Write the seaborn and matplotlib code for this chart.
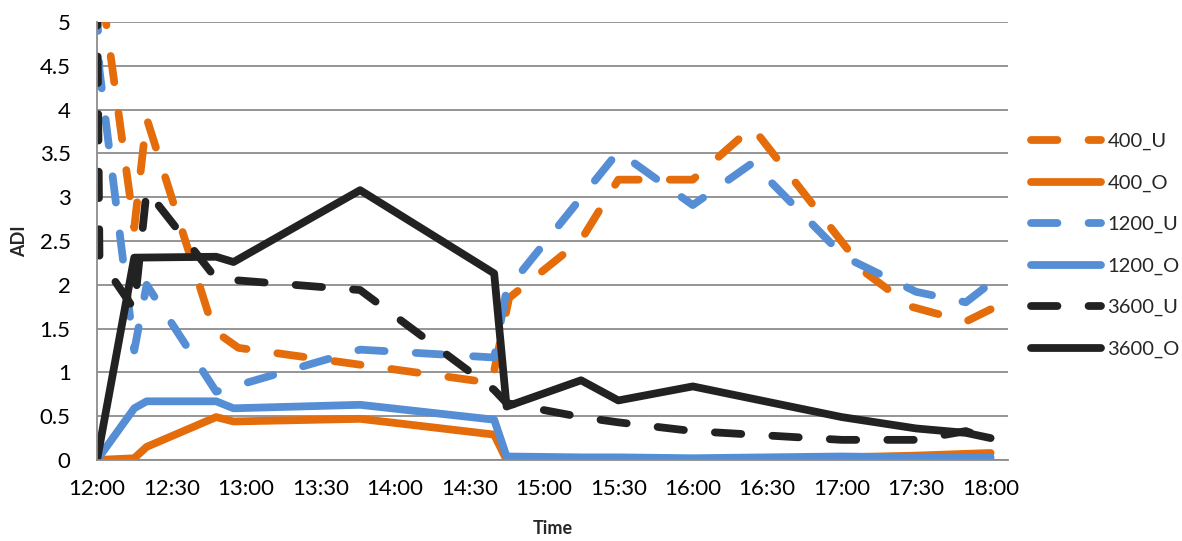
import matplotlib
matplotlib.use("Agg")
import matplotlib.pyplot as plt
from matplotlib.ticker import MultipleLocator, FuncFormatter
import pandas as pd
import seaborn as sns

# ---- measured ADI per run (sample time HH:MM, value) ----
t_400_u = ["12:00", "12:15", "12:20", "12:47", "12:57", "14:39", "14:46", "15:15",
           "15:30", "16:00", "16:24", "17:10", "17:28", "17:50", "18:00"]
v_400_u = [5.75, 2.65, 3.9, 1.48, 1.28, 0.88, 1.85, 2.51,
           3.2, 3.2, 3.8, 2.13, 1.75, 1.58, 1.72]

t_400_o = ["12:00", "12:15", "12:20", "12:48", "12:55", "13:46", "14:40", "14:45",
           "15:15", "15:30", "16:00", "17:00", "17:30", "18:00"]
v_400_o = [0.0, 0.02, 0.15, 0.49, 0.44, 0.47, 0.29, 0.0,
           0.01, 0.01, 0.01, 0.03, 0.05, 0.08]

t_1200_u = ["12:00", "12:01", "12:15", "12:20", "12:48", "13:46", "14:40", "14:45",
            "15:30", "16:00", "16:24", "17:01", "17:30", "17:50", "18:00"]
v_1200_u = [5.2, 4.45, 1.25, 2.0, 0.78, 1.26, 1.17, 1.94,
            3.52, 2.91, 3.39, 2.32, 1.92, 1.8, 2.02]

t_1200_o = ["12:00", "12:15", "12:20", "12:48", "12:55", "13:46", "14:40", "14:45",
            "15:15", "15:30", "16:00", "17:00", "17:30", "18:00"]
v_1200_o = [0.0, 0.59, 0.67, 0.67, 0.59, 0.63, 0.46, 0.04,
            0.03, 0.03, 0.02, 0.04, 0.03, 0.03]

t_3600_u = ["12:00", "12:01", "12:15", "12:20", "12:48", "13:46", "14:40", "14:45",
            "15:15", "15:30", "16:00", "17:00", "17:30", "17:50", "18:00"]
v_3600_u = [5.5, 2.3, 1.72, 3.08, 2.07, 1.94, 0.8, 0.65,
            0.49, 0.43, 0.33, 0.23, 0.23, 0.33, 0.23]

t_3600_o = ["12:00", "12:15", "12:48", "12:55", "13:46", "14:40", "14:45", "15:15",
            "15:30", "16:00", "17:00", "17:30", "17:50", "18:00"]
v_3600_o = [0.0, 2.31, 2.32, 2.26, 3.08, 2.13, 0.61, 0.91,
            0.68, 0.84, 0.49, 0.36, 0.31, 0.25]

series_names = ["400_U", "400_O", "1200_U", "1200_O", "3600_U", "3600_O"]
series_times = [t_400_u, t_400_o, t_1200_u, t_1200_o, t_3600_u, t_3600_o]
series_values = [v_400_u, v_400_o, v_1200_u, v_1200_o, v_3600_u, v_3600_o]

y_ticks = [0, 0.5, 1, 1.5, 2, 2.5, 3, 3.5, 4, 4.5, 5]

ORANGE = "#E46C0A"
BLUE = "#558ED5"
BLACK = "#222222"
colors = {"400_U": ORANGE, "400_O": ORANGE, "1200_U": BLUE,
          "1200_O": BLUE, "3600_U": BLACK, "3600_O": BLACK}


def minutes_after_noon(hhmm):
    h, m = hhmm.split(":")
    return (int(h) - 12) * 60 + int(m)


frames = []
for name, ts, vs in zip(series_names, series_times, series_values):
    frames.append(pd.DataFrame({"series": name,
                                "minutes": [minutes_after_noon(t) for t in ts],
                                "ADI": vs}))
df = pd.concat(frames, ignore_index=True)

sns.set_theme(style="white")
plt.rcParams["font.family"] = ["Lato", "DejaVu Sans"]

fig = plt.figure(figsize=(11.82, 5.41), dpi=100)
ax = fig.add_axes([97 / 1182, 1 - 460 / 541, (1008 - 97) / 1182, (460 - 22) / 541])

LW = 5.6
for name in series_names:
    sub = df[df["series"] == name]
    sns.lineplot(data=sub, x="minutes", y="ADI", color=colors[name], lw=LW,
                 sort=False, estimator=None, label=name, legend=False, ax=ax)
    ln = ax.lines[-1]
    ln.set_solid_capstyle("round")
    ln.set_solid_joinstyle("round")
    ln.set_dash_capstyle("round")
    ln.set_dash_joinstyle("round")
    if name.endswith("_U"):
        ln.set_dashes((3.4, 4.0))

ax.set_xlim(0, 367)
ax.set_ylim(0, 5)
ax.xaxis.set_major_locator(MultipleLocator(30))
ax.xaxis.set_major_formatter(
    FuncFormatter(lambda m, _: f"{12 + int(round(m)) // 60}:{int(round(m)) % 60:02d}"))
ax.set_yticks(y_ticks)
ax.yaxis.set_major_formatter(FuncFormatter(lambda v, _: f"{v:g}"))

ax.grid(axis="y", color="#8C8C8C", lw=1.3)
ax.grid(axis="x", visible=False)
ax.set_axisbelow(True)
for side in ("top", "right"):
    ax.spines[side].set_visible(False)
for side in ("left", "bottom"):
    ax.spines[side].set_color("#8C8C8C")
    ax.spines[side].set_linewidth(1.3)

ax.tick_params(axis="both", length=0, labelsize=16, colors="black")
ax.tick_params(axis="x", pad=14)
ax.tick_params(axis="y", pad=19)

ax.set_xlabel("Time", fontsize=13, fontweight="bold")
ax.set_ylabel("ADI", fontsize=13, fontweight="bold")
ax.xaxis.set_label_coords(0.5, (460 - 528) / 438)
ax.xaxis.label.set_va("center")
ax.yaxis.set_label_coords((20 - 97) / 911, 0.5)
ax.yaxis.label.set_va("center")

handles, labels = ax.get_legend_handles_labels()
leg = fig.legend(handles, labels, loc="center left",
                 bbox_to_anchor=(1031 / 1182, 1 - 245.5 / 541),
                 frameon=False, fontsize=14.5, handlelength=3.5,
                 handletextpad=0.3, labelspacing=1.2, borderpad=0,
                 borderaxespad=0)
for h in leg.legend_handles:
    h.set_linewidth(LW)
    h.set_solid_capstyle("round")
    h.set_dash_capstyle("round")

fig.savefig("out.png", dpi=100)
